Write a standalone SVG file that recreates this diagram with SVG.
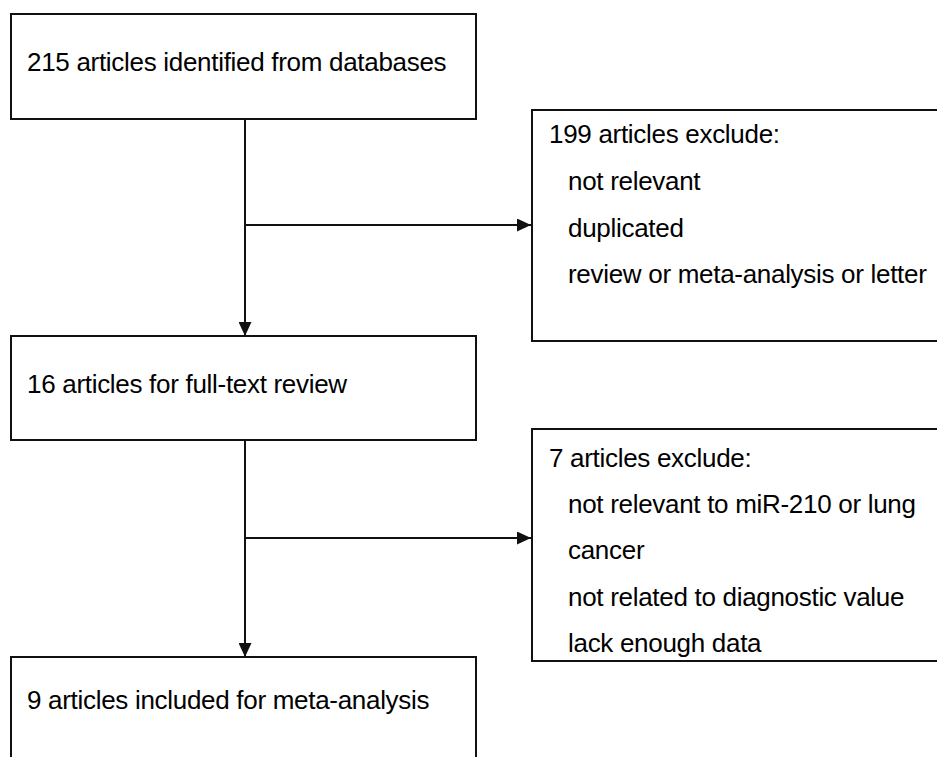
<svg xmlns="http://www.w3.org/2000/svg" width="937" height="757" viewBox="0 0 937 757">
<style>
.box{fill:#fff;stroke:#111;stroke-width:2}
.t{font-family:"Liberation Sans",Arial,sans-serif;font-size:26px;letter-spacing:-0.3px;fill:#000}
.c{fill:none;stroke:#111;stroke-width:2}
</style>
<defs>
<marker id="ah" markerUnits="userSpaceOnUse" markerWidth="15" markerHeight="13" refX="14" refY="6.5" orient="auto">
<path d="M0,0 L14,6.5 L0,13 Z" fill="#111"/>
</marker>
</defs>
<rect width="937" height="757" fill="#fff"/>
<g id="connectors">
<line class="c" x1="245" y1="119" x2="245" y2="336" marker-end="url(#ah)"/>
<line class="c" x1="245" y1="225" x2="531" y2="225" marker-end="url(#ah)"/>
<line class="c" x1="245" y1="440" x2="245" y2="657" marker-end="url(#ah)"/>
<line class="c" x1="245" y1="538" x2="531" y2="538" marker-end="url(#ah)"/>
</g>
<g id="n1">
<rect class="box" x="11" y="14" width="465" height="105"/>
<text class="t" x="27" y="71">215 articles identified from databases</text>
</g>
<g id="n2">
<rect class="box" x="532" y="110" width="420" height="231"/>
<text class="t" x="549" y="143">199 articles exclude:</text>
<text class="t" x="568" y="190">not relevant</text>
<text class="t" x="568" y="237">duplicated</text>
<text class="t" x="568" y="283">review or meta-analysis or letter</text>
</g>
<g id="n3">
<rect class="box" x="11" y="336" width="465" height="104"/>
<text class="t" x="27" y="393">16 articles for full-text review</text>
</g>
<g id="n4">
<rect class="box" x="532" y="429" width="420" height="232"/>
<text class="t" x="549" y="467">7 articles exclude:</text>
<text class="t" x="568" y="513">not relevant to miR-210 or lung</text>
<text class="t" x="568" y="559">cancer</text>
<text class="t" x="568" y="606">not related to diagnostic value</text>
<text class="t" x="568" y="652">lack enough data</text>
</g>
<g id="n5">
<rect class="box" x="11" y="657" width="465" height="120"/>
<text class="t" x="27" y="709">9 articles included for meta-analysis</text>
</g>
</svg>
